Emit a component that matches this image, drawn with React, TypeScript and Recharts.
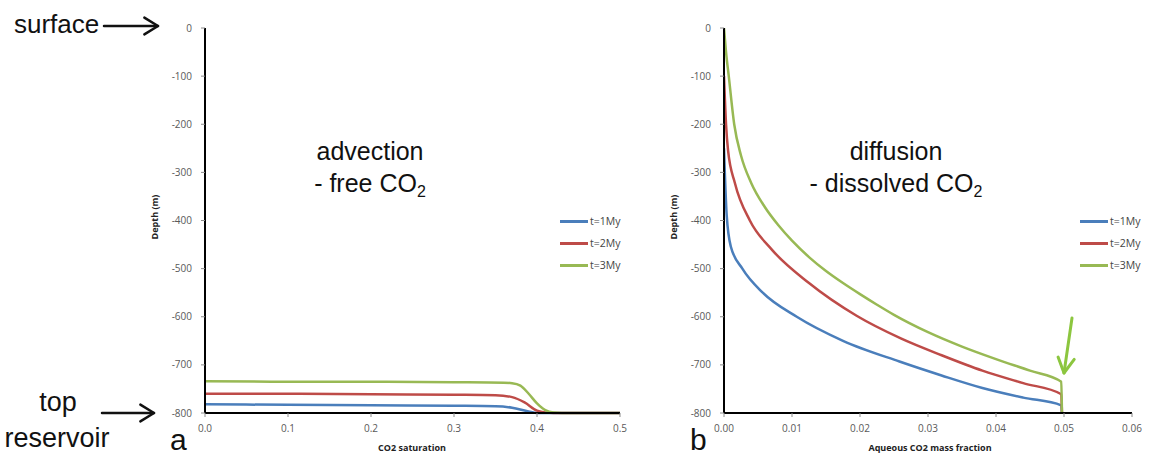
import React from 'react';
import { LineChart, Line, XAxis, YAxis, Legend } from 'recharts';

// ── Data ─────────────────────────────────────────────────────────────────────
// Each point is [x, depth in m].

const seriesNames = ['t=1My', 't=2My', 't=3My'];
const seriesColors = ['#4a7ebb', '#be4b48', '#98b954'];

const depthTicks = [0, -100, -200, -300, -400, -500, -600, -700, -800];
const saturationTicks = [0, 0.1, 0.2, 0.3, 0.4, 0.5];
const massFractionTicks = [0, 0.01, 0.02, 0.03, 0.04, 0.05, 0.06];

// panel a – CO2 saturation
const satT1: [number, number][] = [
  [0, -782], [0.1, -783], [0.2, -784], [0.3, -785], [0.35, -786], [0.37, -789],
  [0.39, -797], [0.4, -800], [0.5, -800],
];
const satT2: [number, number][] = [
  [0, -760], [0.1, -760], [0.2, -761], [0.3, -762], [0.35, -763], [0.37, -767],
  [0.385, -778], [0.4, -795], [0.41, -799], [0.42, -800], [0.5, -800],
];
const satT3: [number, number][] = [
  [0, -734], [0.1, -735], [0.2, -735], [0.3, -736], [0.36, -737], [0.37, -738],
  [0.38, -743], [0.39, -760], [0.4, -780], [0.41, -794], [0.42, -799], [0.43, -800],
  [0.5, -800],
];

// panel b – aqueous CO2 mass fraction
const aqT1: [number, number][] = [
  [0, -250], [0.0004, -390], [0.001, -454], [0.0027, -500], [0.0057, -550],
  [0.0107, -600], [0.0175, -650], [0.0258, -693], [0.032, -722], [0.038, -748],
  [0.044, -768], [0.0496, -784], [0.0497, -800],
];
const aqT2: [number, number][] = [
  [0, -100], [0.0003, -200], [0.0006, -255], [0.0016, -322], [0.0038, -400],
  [0.007, -460], [0.0125, -530], [0.0195, -598], [0.026, -645], [0.032, -680],
  [0.038, -712], [0.044, -738], [0.0496, -761], [0.0497, -800],
];
const aqT3: [number, number][] = [
  [0, 0], [0.0003, -50], [0.0007, -100], [0.0015, -200], [0.0025, -265],
  [0.004, -322], [0.006, -372], [0.008, -410], [0.01, -442], [0.0125, -476],
  [0.015, -505], [0.0175, -530], [0.02, -553], [0.0225, -575], [0.025, -596],
  [0.03, -632], [0.035, -662], [0.04, -688], [0.045, -712], [0.0496, -735],
  [0.0497, -800],
];

const toRows = (pts: [number, number][]) => pts.map(([x, y]) => ({ x, y }));

// ── Styling ──────────────────────────────────────────────────────────────────
const tickStyle = { fontSize: 10, fill: '#595959', fontFamily: '"Open Sans", sans-serif' };
const axisLine = { stroke: '#000', strokeWidth: 2 };
const tickLine = { stroke: '#8a8a8a' };

function LegendBox({ payload }: any) {
  const items = (payload && payload.length ? payload : seriesNames.map((n, i) => ({ value: n, color: seriesColors[i] })));
  return (
    <div style={{ fontFamily: '"Open Sans", sans-serif', fontSize: 10.5, color: '#444' }}>
      {items.map((p: any, i: number) => (
        <div key={i} style={{ display: 'flex', alignItems: 'center', height: 22 }}>
          <span style={{ display: 'inline-block', width: 28, height: 3, background: p.color, marginRight: 2 }} />
          <span>{p.value}</span>
        </div>
      ))}
    </div>
  );
}

function Panel(props: {
  left: number;
  width: number;
  marginLeft: number;
  marginRight: number;
  series: [number, number][][];
  xMax: number;
  xTicks: number[];
  digits: number;
  legendLeft: number;
}) {
  const { left, width, marginLeft, marginRight, series, xMax, xTicks, digits, legendLeft } = props;
  return (
    <div style={{ position: 'absolute', left, top: 0 }}>
      <LineChart
        width={width}
        height={458}
        margin={{ top: 28, right: marginRight, bottom: 15, left: marginLeft }}
      >
        <XAxis
          type="number"
          dataKey="x"
          domain={[0, xMax]}
          ticks={xTicks}
          allowDataOverflow
          tickFormatter={(v: number) => v.toFixed(digits)}
          tick={tickStyle}
          axisLine={axisLine}
          tickLine={tickLine}
          tickSize={4}
          tickMargin={8}
          height={30}
        />
        <YAxis
          type="number"
          dataKey="y"
          domain={[-800, 0]}
          ticks={depthTicks}
          tick={tickStyle}
          axisLine={axisLine}
          tickLine={tickLine}
          tickSize={4}
          tickMargin={9}
          width={60}
        />
        <Legend
          layout="vertical"
          align="center"
          verticalAlign="middle"
          content={<LegendBox />}
          wrapperStyle={{ left: legendLeft, top: 210, width: 'auto' }}
        />
        {series.map((pts, i) => (
          <Line
            key={seriesNames[i]}
            data={toRows(pts)}
            dataKey="y"
            name={seriesNames[i]}
            type="monotone"
            stroke={seriesColors[i]}
            strokeWidth={2.5}
            dot={false}
            isAnimationActive={false}
          />
        ))}
      </LineChart>
    </div>
  );
}

function Arrow({ x1, y1, x2, y2, color, w, L = 14, s = 0.55 }: {
  x1: number; y1: number; x2: number; y2: number; color: string; w: number; L?: number; s?: number;
}) {
  const a = Math.atan2(y2 - y1, x2 - x1);
  const p1 = [x2 - L * Math.cos(a - s), y2 - L * Math.sin(a - s)];
  const p2 = [x2 - L * Math.cos(a + s), y2 - L * Math.sin(a + s)];
  return (
    <g stroke={color} strokeWidth={w} fill="none" strokeLinecap="round" strokeLinejoin="round">
      <line x1={x1} y1={y1} x2={x2} y2={y2} />
      <polyline points={`${p1[0]},${p1[1]} ${x2},${y2} ${p2[0]},${p2[1]}`} />
    </g>
  );
}

export default function App() {
  const big = { fontFamily: '"Liberation Sans", Arial, sans-serif', fontSize: 25, fill: '#111' };
  const axisTitle = { fontFamily: '"Open Sans", sans-serif', fontSize: 9, fontWeight: 700, fill: '#222' };
  return (
    <div style={{ position: 'absolute', left: 0, top: 0, width: 1151, height: 458, background: '#fff', overflow: 'hidden' }}>
      <Panel
        left={120}
        width={520}
        marginLeft={25}
        marginRight={20}
        series={[satT1, satT2, satT3]}
        xMax={0.5}
        xTicks={saturationTicks}
        digits={1}
        legendLeft={440}
      />
      <Panel
        left={640}
        width={511}
        marginLeft={24}
        marginRight={19}
        series={[aqT1, aqT2, aqT3]}
        xMax={0.06}
        xTicks={massFractionTicks}
        digits={2}
        legendLeft={440}
      />
      <svg width={1151} height={458} style={{ position: 'absolute', left: 0, top: 0, pointerEvents: 'none' }}>
        {/* left-side labels */}
        <text x={14} y={33} {...big} fontSize={26}>surface</text>
        <Arrow x1={104} y1={26} x2={158} y2={26} color="#111" w={2.5} L={16} />
        <text x={58} y={411} textAnchor="middle" {...big} fontSize={27}>top</text>
        <text x={57} y={447} textAnchor="middle" {...big} fontSize={27}>reservoir</text>
        <Arrow x1={102} y1={413} x2={154} y2={413} color="#111" w={2.5} L={16} />
        <text x={170} y={450} {...big} fontSize={30}>a</text>
        <text x={690} y={450} {...big} fontSize={30}>b</text>

        {/* panel annotations */}
        <text x={370} y={160} textAnchor="middle" {...big}>advection</text>
        <text x={370} y={192} textAnchor="middle" {...big}>
          - free CO<tspan fontSize={16} dy={5}>2</tspan>
        </text>
        <text x={896} y={160} textAnchor="middle" {...big}>diffusion</text>
        <text x={896} y={192} textAnchor="middle" {...big}>
          - dissolved CO<tspan fontSize={16} dy={5}>2</tspan>
        </text>
        <Arrow x1={1072} y1={318} x2={1064} y2={373} color="#8cc63f" w={3} L={17} s={0.5} />

        {/* axis titles */}
        <text x={412} y={451} textAnchor="middle" {...axisTitle}>CO2 saturation</text>
        <text x={930} y={451} textAnchor="middle" {...axisTitle}>Aqueous CO2 mass fraction</text>
        <text x={158} y={217} textAnchor="middle" transform="rotate(-90 158 217)" {...axisTitle}>Depth (m)</text>
        <text x={677} y={217} textAnchor="middle" transform="rotate(-90 677 217)" {...axisTitle}>Depth (m)</text>
      </svg>
    </div>
  );
}
